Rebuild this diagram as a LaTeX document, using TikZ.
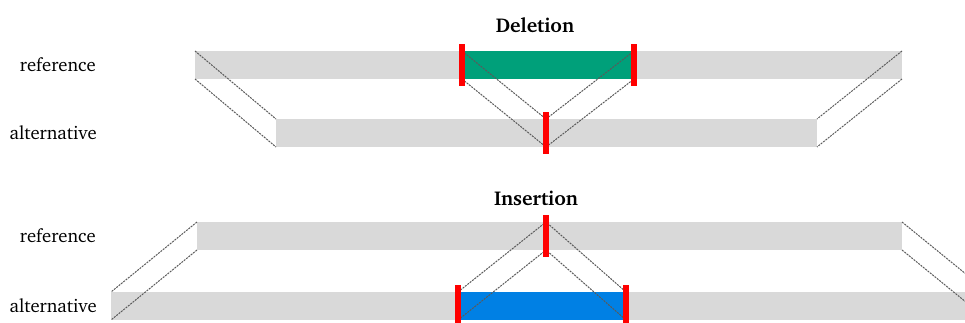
\documentclass[tikz,border=0pt]{standalone}
\usepackage[T1]{fontenc}
\usepackage{charter}
\usetikzlibrary{fit}
\definecolor{bargray}{HTML}{D9D9D9}
\definecolor{linkgray}{HTML}{5A5A5A}
\definecolor{delgreen}{HTML}{00A07A}
\definecolor{insblue}{HTML}{0080E4}
\tikzset{
  bar/.style={fill=bargray, inner sep=0pt, outer sep=0pt},
  cut/.style={fill=red, inner sep=0pt, outer sep=0pt, minimum width=4.5pt, minimum height=32pt},
  link/.style={draw=linkgray, line width=0.75pt, dash pattern=on 1.5pt off 0.75pt},
  lbl/.style={anchor=east, inner sep=0pt, font=\fontsize{14}{16}\selectfont},
  title/.style={font=\fontsize{15}{18}\selectfont\bfseries}
}
\begin{document}
\begin{tikzpicture}[x=0.75pt, y=-0.75pt]
  \clip (0,0) rectangle (965,322);
  % deletion
  \node[title] (delTitle) at (535,25) {Deletion};
  \node[lbl] (delRefLbl) at (96,65) {reference};
  \node[lbl] (delAltLbl) at (97,133) {alternative};
  \node[bar, fit={(195,51) (902,79)}] (refD) {};
  \node[bar, fit={(276,119) (817,147)}] (altD) {};
  \node[bar, fill=delgreen, fit={(462,51) (634,79)}] (del) {};
  \coordinate (altCutTop) at (546,119);
  \coordinate (altCutBot) at (546,147);
  \draw[link] (refD.north west) -- (altD.north west);
  \draw[link] (refD.south west) -- (altD.south west);
  \draw[link] (refD.north east) -- (altD.north east);
  \draw[link] (refD.south east) -- (altD.south east);
  \draw[link] (del.north west) -- (altCutTop) -- (del.north east);
  \draw[link] (del.south west) -- (altCutBot) -- (del.south east);
  \node[cut] (delL) at (del.west) {};
  \node[cut] (delR) at (del.east) {};
  \node[cut] (altCut) at (546,133) {};
  % insertion
  \node[title] (insTitle) at (536,198) {Insertion};
  \node[lbl] (insRefLbl) at (96,236) {reference};
  \node[lbl] (insAltLbl) at (97,306) {alternative};
  \node[bar, fit={(197,222) (902,250)}] (refI) {};
  \node[bar, fit={(111,292) (988,320)}] (altI) {};
  \node[bar, fill=insblue, fit={(458,292) (626,320)}] (ins) {};
  \coordinate (refCutTop) at (546,222);
  \coordinate (refCutBot) at (546,250);
  \draw[link] (refI.north west) -- (altI.north west);
  \draw[link] (refI.south west) -- (altI.south west);
  \draw[link] (refI.north east) -- (altI.north east);
  \draw[link] (refI.south east) -- (altI.south east);
  \draw[link] (ins.north west) -- (refCutTop) -- (ins.north east);
  \draw[link] (ins.south west) -- (refCutBot) -- (ins.south east);
  \node[cut] (refCut) at (546,236) {};
  \node[cut] (insL) at (ins.west) {};
  \node[cut] (insR) at (ins.east) {};
\end{tikzpicture}
\end{document}
